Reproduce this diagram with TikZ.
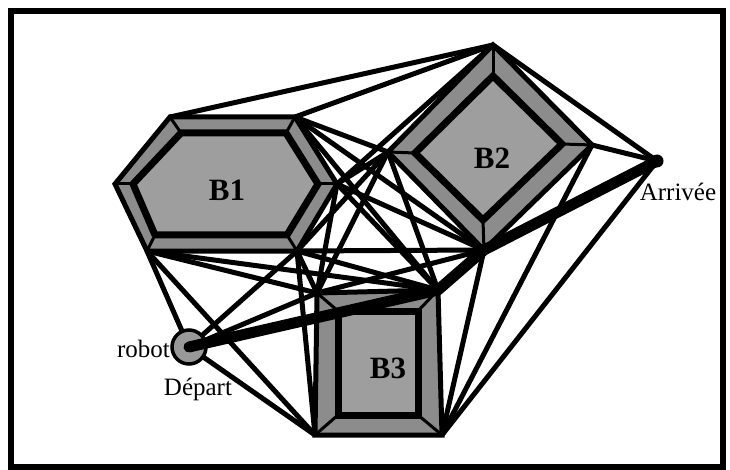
\documentclass[tikz,border=0pt]{standalone}
\usepackage{fontspec}
\setmainfont{Liberation Serif}

\begin{document}
\begin{tikzpicture}[
  x=1pt,y=-1pt,
  grown/.style={draw,line width=5pt,fill=black!45,line join=miter},
  obst/.style={draw,line width=7pt,fill=black!38,line join=miter},
  bevel/.style={line width=3pt},
  route/.style={line width=11pt,line cap=round,line join=round},
  lbl/.style={font=\fontsize{25}{27}\selectfont},
  blk/.style={font=\fontsize{31}{33}\selectfont\bfseries},
  every edge/.style={draw,line width=5pt}
]
\useasboundingbox (0,0) rectangle (730,470);
\draw[line width=6pt] (11,11) rectangle (723,467);

% start and goal
\coordinate (S) at (189,347);
\coordinate (G) at (657,161);

% B1, grown and real
\coordinate (A1) at (115,184);
\coordinate (A2) at (170,117);
\coordinate (A3) at (295,117);
\coordinate (A4) at (337,184);
\coordinate (A5) at (297,251);
\coordinate (A6) at (147,251);
\coordinate (a1) at (133,184);
\coordinate (a2) at (181,133);
\coordinate (a3) at (286,133);
\coordinate (a4) at (318,184);
\coordinate (a5) at (287,235);
\coordinate (a6) at (155,235);

% B2
\coordinate (D1) at (493,45);
\coordinate (D2) at (592,145);
\coordinate (D3) at (484,250);
\coordinate (D4) at (388,152);
\coordinate (d1) at (493,76);
\coordinate (d2) at (562,144);
\coordinate (d3) at (483,220);
\coordinate (d4) at (415,153);

% B3
\coordinate (C1) at (317,293);
\coordinate (C2) at (438,290);
\coordinate (C3) at (442,435);
\coordinate (C4) at (315,435);
\coordinate (c1) at (338,311);
\coordinate (c2) at (418,311);
\coordinate (c3) at (418,415);
\coordinate (c4) at (338,415);

% visibility graph
\path (A2) edge (D1)
      (A3) edge (D1)
      (A4) edge (D1)
      (A3) edge (D4)
      (A3) edge (D3)
      (A3) edge (C2)
      (A4) edge (D4)
      (A4) edge (D3)
      (A4) edge (C1)
      (A4) edge (C2)
      (A5) edge (D4)
      (A5) edge (D3)
      (A5) edge (C1)
      (A5) edge (C2)
      (A5) edge (C4)
      (A5) edge (S)
      (A6) edge (C1)
      (A6) edge (C2)
      (A6) edge (C4)
      (A6) edge (S)
      (D4) edge (C1)
      (D4) edge (C2)
      (D3) edge (C1)
      (D3) edge (C2)
      (D3) edge (C3)
      (D2) edge (C3)
      (C3) edge (G)
      (D1) edge (G)
      (D2) edge (G)
      (S) edge (C1)
      (S) edge (C4);

% obstacles
\draw[grown] (A1) -- (A2) -- (A3) -- (A4) -- (A5) -- (A6) -- cycle;
\foreach \i in {1,...,6} \draw[bevel] (A\i) -- (a\i);
\draw[obst] (a1) -- (a2) -- (a3) -- (a4) -- (a5) -- (a6) -- cycle;

\draw[grown] (D1) -- (D2) -- (D3) -- (D4) -- cycle;
\foreach \i in {1,...,4} \draw[bevel] (D\i) -- (d\i);
\draw[obst] (d1) -- (d2) -- (d3) -- (d4) -- cycle;

\draw[grown] (C1) -- (C2) -- (C3) -- (C4) -- cycle;
\foreach \i in {1,...,4} \draw[bevel] (C\i) -- (c\i);
\draw[obst] (c1) -- (c2) -- (c3) -- (c4) -- cycle;

% robot and path
\node[circle,draw,line width=3.5pt,fill=black!40,minimum size=34pt,inner sep=0pt] (robot) at (S) {};
\draw[route] (robot.center) -- (C2) -- (D3) -- (G);
\fill (S) circle (5pt);
\node[circle,fill,inner sep=0pt,minimum size=13pt] (goal) at (G) {};

% labels
\node[blk] (b1) at (227,190) {B1};
\node[blk] (b2) at (492,158) {B2};
\node[blk] (b3) at (388,368) {B3};
\node[lbl,left,inner sep=1pt] (robotlbl) at (171,349) {robot};
\node[lbl] (deplbl) at (198,389) {Départ};
\node[lbl] (arrlbl) at (678,192) {Arrivée};
\end{tikzpicture}
\end{document}
